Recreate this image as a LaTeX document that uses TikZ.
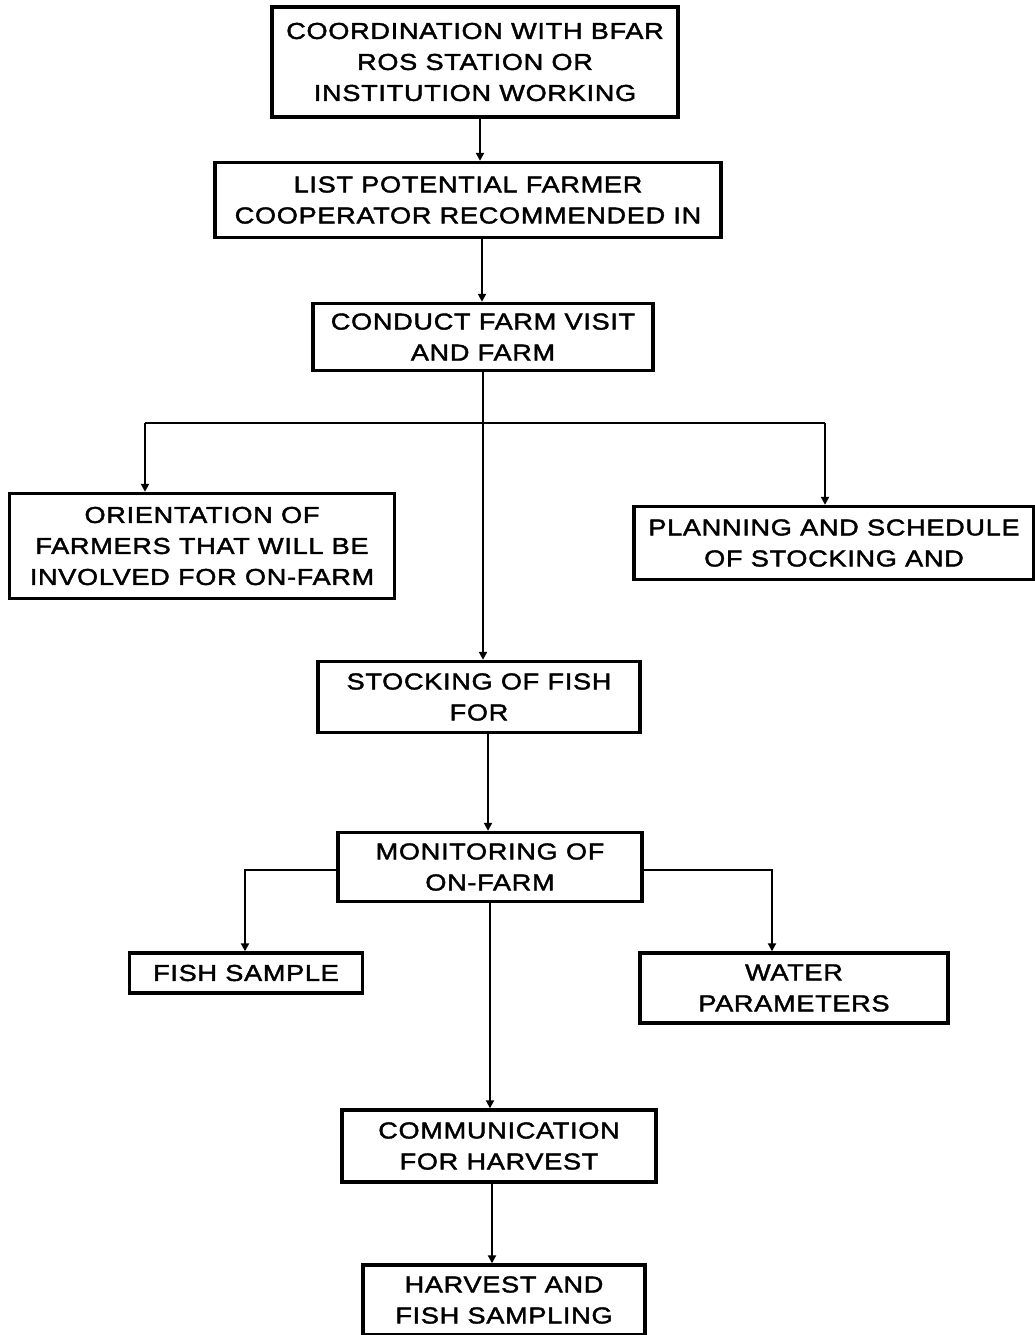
\documentclass[tikz,border=0pt]{standalone}
\usepackage{fontspec}
\setmainfont{Liberation Sans}[FakeStretch=1.18,LetterSpace=3,FakeBold=1.8]
\usetikzlibrary{arrows.meta}
\begin{document}
\begin{tikzpicture}[x=1pt,y=-1pt,
  box/.style={draw=black,line width=3.4pt,fill=white,inner sep=0pt,align=center,
    font=\fontsize{23}{31}\selectfont},
  link/.style={line width=2.2pt},
  arr/.style={link,-{Triangle[length=8pt,width=8pt]}}]
\useasboundingbox (0,0) rectangle (1035,1335);

% process boxes
\node[box,minimum width=406pt,minimum height=110pt] (b1) at (475,62)
  {COORDINATION WITH BFAR\\ROS STATION OR\\INSTITUTION WORKING};
\node[box,minimum width=506pt,minimum height=75pt] (b2) at (468,200)
  {LIST POTENTIAL FARMER\\COOPERATOR RECOMMENDED IN};
\node[box,minimum width=340pt,minimum height=67pt] (b3) at (483,337)
  {CONDUCT FARM VISIT\\AND FARM};
\node[box,minimum width=385pt,minimum height=105pt] (b4) at (202,546)
  {ORIENTATION OF\\FARMERS THAT WILL BE\\INVOLVED FOR ON-FARM};
\node[box,minimum width=400pt,minimum height=73pt] (b5) at (834,543)
  {PLANNING AND SCHEDULE\\OF STOCKING AND};
\node[box,minimum width=322pt,minimum height=71pt] (b6) at (479,697)
  {STOCKING OF FISH\\FOR};
\node[box,minimum width=304pt,minimum height=69pt] (b7) at (490,867)
  {MONITORING OF\\ON-FARM};
\node[box,minimum width=233pt,minimum height=40pt] (b8) at (246,973)
  {FISH SAMPLE};
\node[box,minimum width=308pt,minimum height=70pt] (b9) at (794,988)
  {WATER\\PARAMETERS};
\node[box,minimum width=314pt,minimum height=72pt] (b10) at (499,1146)
  {COMMUNICATION\\FOR HARVEST};
\node[box,minimum width=282pt,minimum height=70pt] (b11) at (504,1300)
  {HARVEST AND\\FISH SAMPLING};

% connector guide points
\coordinate (x12) at (480,0);
\coordinate (x23) at (482,0);
\coordinate (x36) at (483,0);
\coordinate (bl) at (145,423);
\coordinate (br) at (825,423);
\coordinate (x67) at (488,0);
\coordinate (ml) at (245,870);
\coordinate (mr) at (772,870);
\coordinate (x710) at (490,0);
\coordinate (x1011) at (492,0);

% connectors
\draw[arr] (x12 |- b1.south) -- (x12 |- b2.north);
\draw[arr] (x23 |- b2.south) -- (x23 |- b3.north);
\draw[arr] (x36 |- b3.south) -- (x36 |- b6.north);
\draw[link] (bl) -- (br);
\draw[arr] (bl) -- (bl |- b4.north);
\draw[arr] (br) -- (br |- b5.north);
\draw[arr] (x67 |- b6.south) -- (x67 |- b7.north);
\draw[arr] (ml -| b7.west) -- (ml) -- (ml |- b8.north);
\draw[arr] (mr -| b7.east) -- (mr) -- (mr |- b9.north);
\draw[arr] (x710 |- b7.south) -- (x710 |- b10.north);
\draw[arr] (x1011 |- b10.south) -- (x1011 |- b11.north);
\end{tikzpicture}
\end{document}
